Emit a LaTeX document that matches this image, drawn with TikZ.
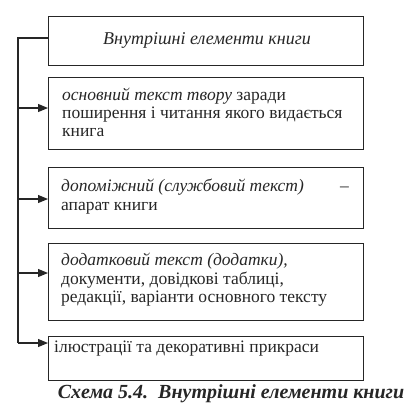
\documentclass[tikz,border=0pt]{standalone}
\usepackage{fontspec}
\setmainfont{Liberation Serif}
\usetikzlibrary{arrows.meta}
\begin{document}
\begin{tikzpicture}[x=1pt,y=-1pt,
  box/.style={draw=black!85,line width=1.1pt,rectangle,inner sep=0pt,anchor=north west},
  txt/.style={anchor=base west,inner sep=0pt,text=black!85,font=\fontsize{17.5}{19}\selectfont},
  conn/.style={draw=black!85,line width=1.1pt},
  arr/.style={conn,-{Triangle[length=10pt,width=8pt]}}]
\useasboundingbox (0,0) rectangle (419,410);
% boxes
\node[box,minimum width=315pt,minimum height=49pt] (b1) at (48,16) {};
\node[box,minimum width=315pt,minimum height=72pt] (b2) at (48,77) {};
\node[box,minimum width=315pt,minimum height=61pt] (b3) at (48,167) {};
\node[box,minimum width=315pt,minimum height=77pt] (b4) at (48,243) {};
\node[box,minimum width=315pt,minimum height=44pt] (b5) at (48,336) {};
% texts
\node[txt,anchor=base,font=\fontsize{18}{20}\selectfont] (t1) at (207,44) {\itshape Внутрішні елементи книги};
\node[txt] (t2a) at (62,100) {\itshape основний текст твору\upshape{} заради};
\node[txt] (t2b) at (62,118) {поширення і читання якого видається};
\node[txt] (t2c) at (62,136) {книга};
\node[txt] (t3a) at (61,191) {\itshape допоміжний (службовий текст)};
\node[txt] (t3d) at (340,191) {–};
\node[txt] (t3b) at (61,210) {апарат книги};
\node[txt] (t4a) at (61,265) {\itshape додатковий текст (додатки),};
\node[txt] (t4b) at (61,284) {документи, довідкові таблиці,};
\node[txt] (t4c) at (61,302) {редакції, варіанти основного тексту};
\node[txt] (t5) at (54,352) {ілюстрації та декоративні прикраси};
% caption
\node[anchor=base,inner sep=0pt,text=black!85,font=\fontsize{20}{22}\selectfont\bfseries\itshape] (cap) at (231,398) {Схема 5.4.\ \ Внутрішні елементи книги};
% connectors
\coordinate (c0) at (18,38);
\coordinate (c1) at (18,108);
\coordinate (c2) at (18,199);
\coordinate (c3) at (18,273);
\coordinate (c4) at (18,343);
\draw[conn] (b1.west |- c0) -- (c0) -- (c4);
\draw[arr] (c1) -- (c1 -| b2.west);
\draw[arr] (c2) -- (c2 -| b3.west);
\draw[arr] (c3) -- (c3 -| b4.west);
\draw[arr] (c4) -- (c4 -| b5.west);
\end{tikzpicture}
\end{document}
